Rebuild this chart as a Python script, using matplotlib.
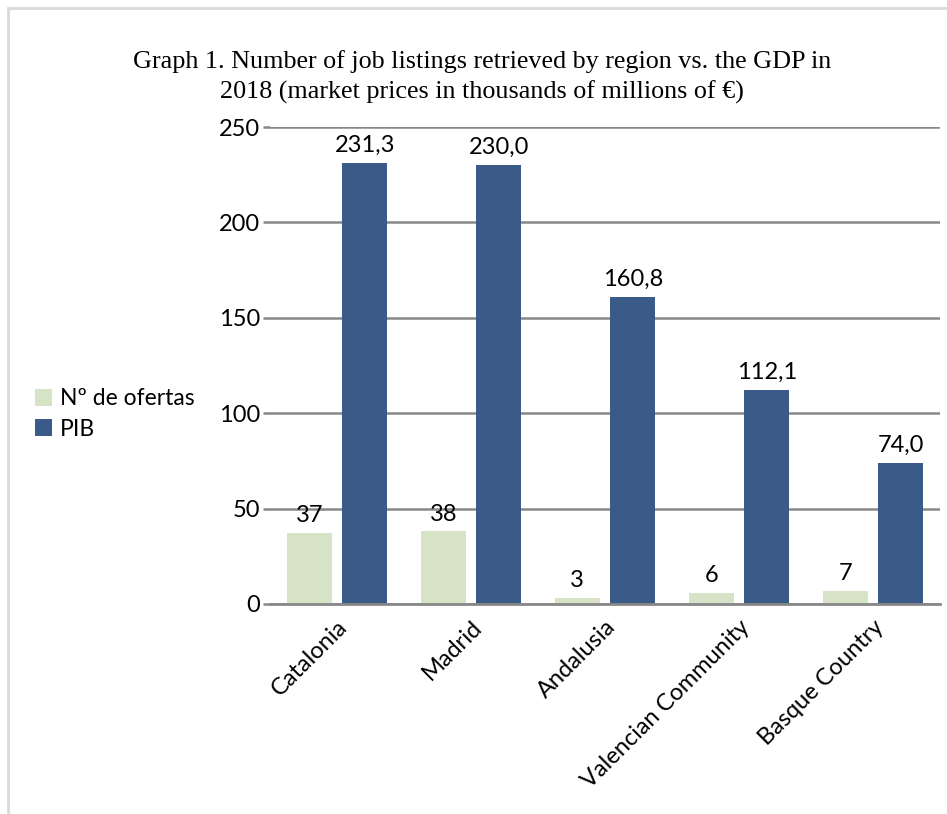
import numpy as np
import matplotlib.pyplot as plt
from matplotlib.patches import Rectangle

regions = ['Catalonia', 'Madrid', 'Andalusia', 'Valencian Community', 'Basque Country']
ofertas = [37, 38, 3, 6, 7]
pib = [231.3, 230.0, 160.8, 112.1, 74.0]
yticks = [0, 50, 100, 150, 200, 250]

green = '#d7e3c6'
blue = '#3a5b88'
grid = '#888888'
sans = 'Lato'
fs = 17

W, H = 947, 814
fig = plt.figure(figsize=(W / 100, H / 100), dpi=100)
ax = fig.add_axes([270 / W, 1 - 604 / H, 670 / W, 477 / H])

x = np.arange(len(regions))
bw = 0.335
b1 = ax.bar(x - 0.207, ofertas, bw, color=green, label='Nº de ofertas', zorder=3)
b2 = ax.bar(x + 0.207, pib, bw, color=blue, label='PIB', zorder=3)

for bars, vals, fmt in [(b1, ofertas, '{:d}'), (b2, pib, '{:.1f}')]:
    for r, v in zip(bars, vals):
        ax.annotate(fmt.format(v).replace('.', ','),
                    (r.get_x() + r.get_width() / 2, v),
                    xytext=(0, 5), textcoords='offset points',
                    ha='center', va='bottom', fontsize=fs, family=sans)

ax.set_xlim(-0.5, 4.5)
ax.set_ylim(0, 250)
ax.set_yticks(yticks)
ax.set_xticks(x)
ax.set_xticklabels(regions, rotation=45, ha='right', rotation_mode='anchor',
                   fontsize=fs, family=sans)
ax.tick_params(axis='x', length=0, pad=9)
ax.tick_params(axis='y', length=5, color=grid, width=1.8, pad=2, labelsize=fs)
for t in ax.get_yticklabels():
    t.set_family(sans)
ax.yaxis.grid(True, color=grid, linewidth=1.8, zorder=0)
for s in ['top', 'right', 'left']:
    ax.spines[s].set_visible(False)
ax.spines['bottom'].set_color(grid)
ax.spines['bottom'].set_linewidth(2)
ax.spines['bottom'].set_zorder(4)

fig.text(482 / W, 1 - 77 / H,
         'Graph 1. Number of job listings retrieved by region vs. the GDP in\n'
         '2018 (market prices in thousands of millions of €)',
         ha='center', va='center', fontsize=18.8, family='Liberation Serif',
         linespacing=1.42)

ax.legend(loc='center left', bbox_to_anchor=(14 / W, 1 - 414 / H),
          bbox_transform=fig.transFigure, frameon=False,
          prop={'family': sans, 'size': 16.5}, handlelength=0.75, handleheight=0.8,
          handletextpad=0.35, labelspacing=0.4)

# outer frame
fig.patches.append(Rectangle((8 / W, -0.05), 1.2, 1 - 8 / H + 0.05,
                             transform=fig.transFigure, fill=False,
                             edgecolor='#d9d9d9', linewidth=2))

fig.savefig('out.png', dpi=100)
